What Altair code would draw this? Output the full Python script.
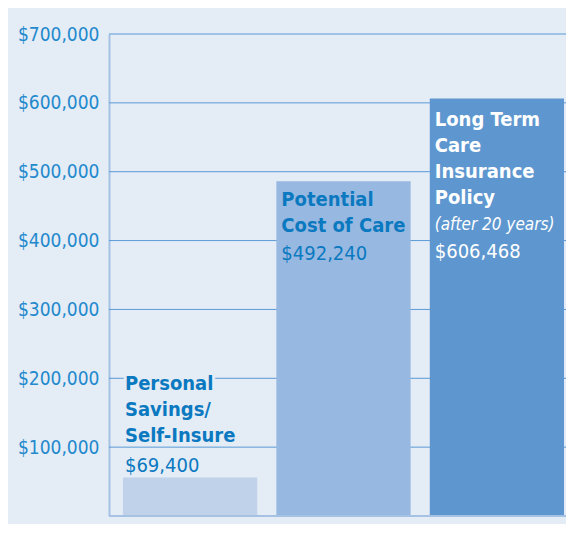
import altair as alt
import pandas as pd

# Data
categories = ["Personal Savings", "Potential Cost of Care", "Long Term Care Insurance Policy"]
bar_heights = [56000, 486000, 606500]          # drawn bar heights
value_labels = ["$69,400", "$492,240", "$606,468"]
title_lines = [
    ["Personal", "Savings/", "Self-Insure"],
    ["Potential", "Cost of Care"],
    ["Long Term", "Care", "Insurance", "Policy"],
]
subtitle = "(after 20 years)"
y_ticks = [100000, 200000, 300000, 400000, 500000, 600000, 700000]

BG = "#E4ECF6"
BAR_COLORS = ["#C0D2EA", "#97B8E0", "#5E97CF"]
GRID = "#5B9AD5"
AXIS = "#A5C2E4"
TEXT_BLUE = "#0B79C0"
TICK_BLUE = "#2389CD"
FONT = "DejaVu Sans Condensed"

bars_df = pd.DataFrame({"cat": categories, "h": bar_heights, "color": BAR_COLORS})

x_scale = alt.Scale(paddingInner=0.125, paddingOuter=0.052, align=0.875)
y_scale = alt.Scale(domain=[0, 700000], nice=False)

grid = alt.Chart(pd.DataFrame({"v": y_ticks})).mark_rule(color=GRID, strokeWidth=1).encode(
    y=alt.Y("v:Q", scale=y_scale,
            axis=alt.Axis(values=y_ticks, format="$,.0f", grid=False, ticks=False,
                          domain=True, domainColor=AXIS, domainWidth=2,
                          labelFont=FONT, labelFontSize=19, labelColor=TICK_BLUE,
                          labelPadding=10),
            title=None),
)

bars = alt.Chart(bars_df).mark_bar(cornerRadius=0).encode(
    x=alt.X("cat:N", sort=categories, axis=None, scale=x_scale),
    y=alt.Y("h:Q", scale=y_scale),
    color=alt.Color("color:N", scale=None),
)

base_axis = alt.Chart(pd.DataFrame({"v": [0]})).mark_rule(color=AXIS, strokeWidth=2).encode(
    y=alt.Y("v:Q", scale=y_scale),
)


def text_layer(i, text, dy, color, weight="normal", style="normal", size=20, halo=False):
    df = pd.DataFrame({"cat": [categories[i]], "h": [bar_heights[i]], "t": [text]})
    props = dict(align="left", baseline="alphabetic", font=FONT, fontSize=size,
                 lineHeight=26, dx=5 if i else 2, dy=dy, color=color,
                 fontWeight=weight, fontStyle=style)
    if halo:
        props.update(color=BG, stroke=BG, strokeWidth=6)
    return alt.Chart(df).mark_text(**props).encode(
        x=alt.X("cat:N", sort=categories, bandPosition=0, scale=x_scale),
        y=alt.Y("h:Q", scale=y_scale),
        text="t:N",
    )


layers = [
    grid, bars,
    # bar 1: labels above the bar
    text_layer(0, title_lines[0][:1], -87, BG, "bold", halo=True),
    text_layer(0, title_lines[0], -87, TEXT_BLUE, "bold"),
    text_layer(0, value_labels[0], -5, TEXT_BLUE),
    # bar 2: labels inside the bar top
    text_layer(1, title_lines[1], 25, TEXT_BLUE, "bold"),
    text_layer(1, value_labels[1], 79, TEXT_BLUE),
    # bar 3
    text_layer(2, title_lines[2], 28, "white", "bold"),
    text_layer(2, subtitle, 132, "white", style="italic", size=17),
    text_layer(2, value_labels[2], 160, "white"),
    base_axis,
]

chart = alt.layer(*layers).properties(
    width=457, height=482,
    autosize=alt.AutoSizeParams(type="none"),
    padding={"left": 101, "top": 26, "right": 0, "bottom": 8},
    background=BG,
).configure_view(stroke=None)

chart.save("out.html", embed_options={"renderer": "svg", "actions": False})
